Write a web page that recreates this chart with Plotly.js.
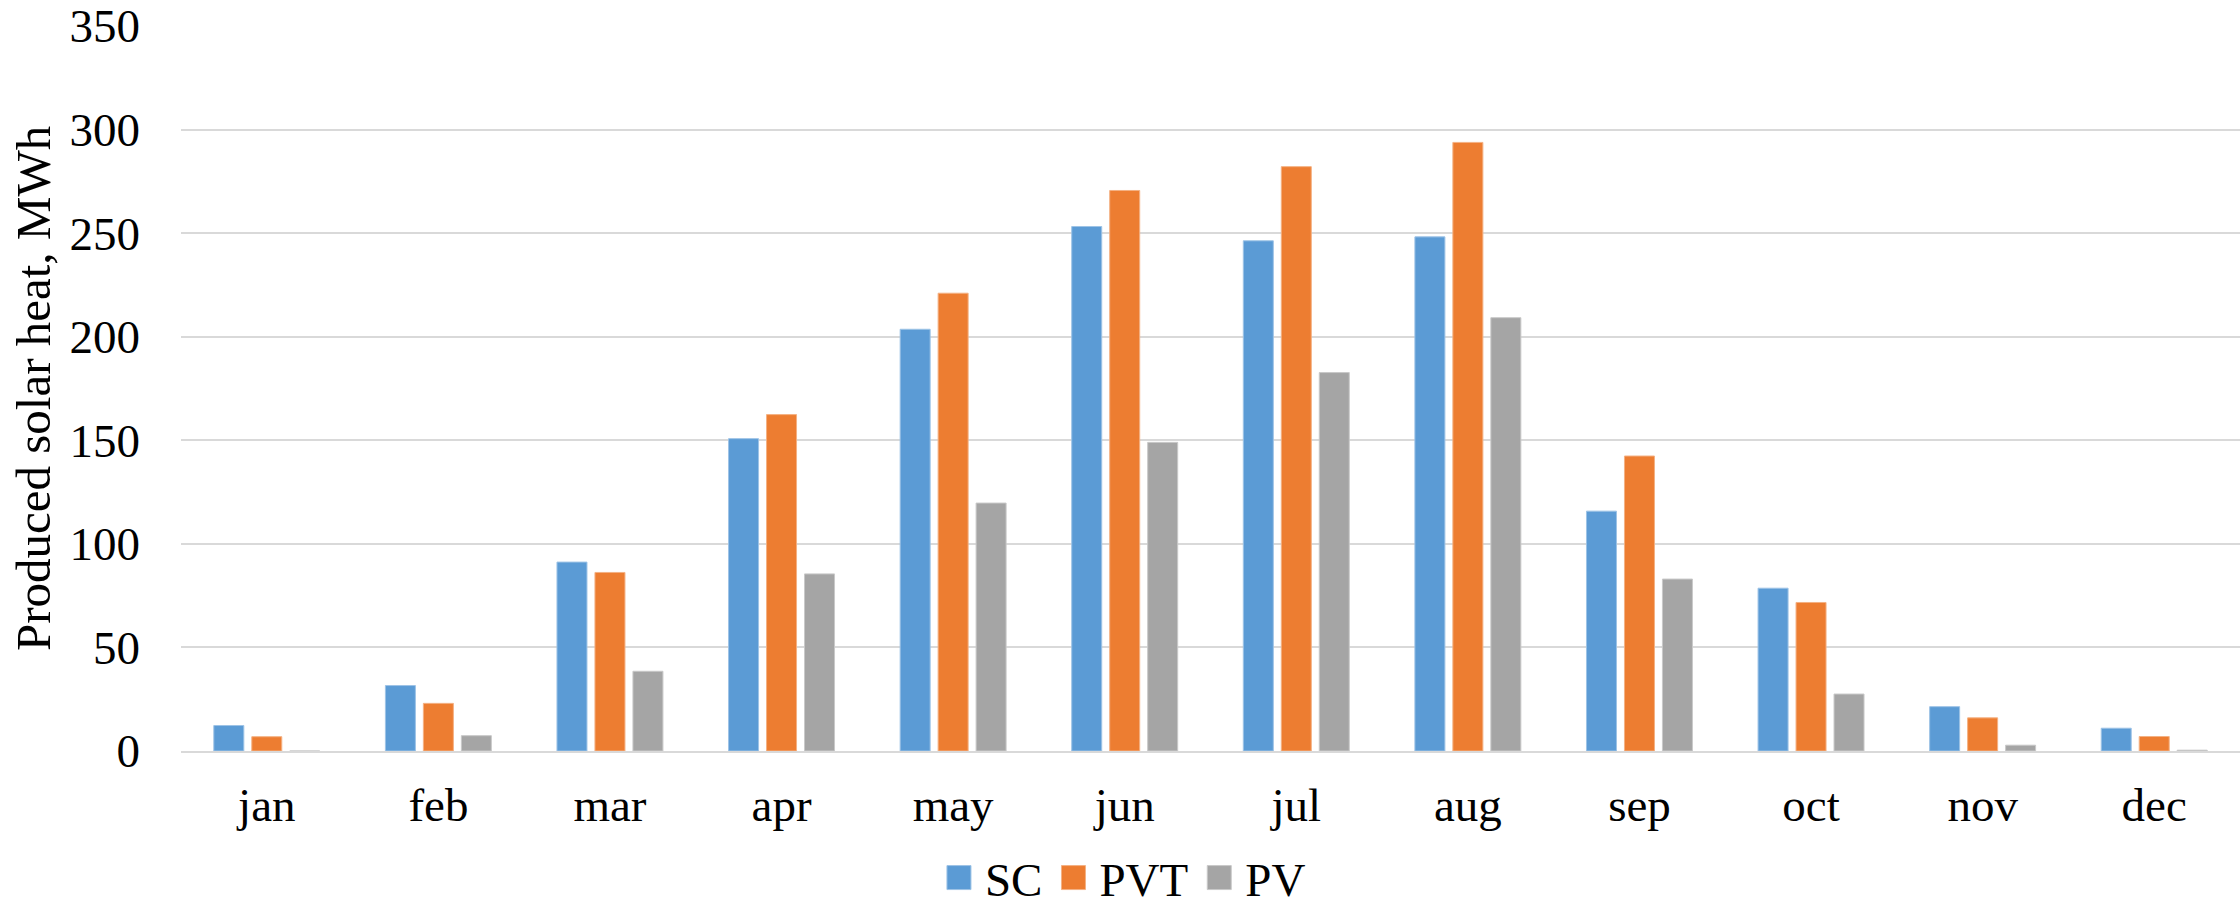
<!DOCTYPE html>
<html>
<head>
<meta charset="utf-8">
<script src="https://cdn.plot.ly/plotly-3.0.1.min.js"></script>
<style>
  html, body { margin: 0; padding: 0; background: #ffffff; }
  #chart { width: 2240px; height: 907px; }
</style>
</head>
<body>
<div id="chart"></div>
<script>
// ---- data ----
const months = ["jan", "feb", "mar", "apr", "may", "jun", "jul", "aug", "sep", "oct", "nov", "dec"];
const scValues  = [12.3, 31.6, 91.2, 150.8, 203.6, 253.2, 246.3, 248.2, 115.8, 78.6, 21.4, 11.0];
const pvtValues = [6.9, 23.0, 86.2, 162.4, 221.0, 270.6, 282.1, 293.8, 142.4, 71.7, 16.0, 7.0];
const pvValues  = [0, 7.4, 38.5, 85.5, 119.7, 149.0, 182.7, 209.2, 83.0, 27.5, 2.8, 0.4];
const seriesNames = ["SC", "PVT", "PV"];
const yTickValues = [0, 50, 100, 150, 200, 250, 300, 350];

const colors = ["#5B9BD5", "#ED7D31", "#A5A5A5"];
const edgeColors = ["#9DC3E6", "#F4B183", "#C9C9C9"];
const FONT = '"Liberation Serif", "Times New Roman", serif';

const seriesValues = [scValues, pvtValues, pvValues];
const traces = seriesValues.map((vals, i) => ({
  type: "bar",
  name: seriesNames[i],
  x: months,
  y: vals,
  marker: { color: colors[i], line: { color: edgeColors[i], width: 1 } },
  hoverinfo: "x+y+name"
}));

const layout = {
  width: 2240,
  height: 907,
  paper_bgcolor: "#ffffff",
  plot_bgcolor: "#ffffff",
  margin: { l: 181, r: 0, t: 26, b: 156, pad: 0, autoexpand: false },
  barmode: "group",
  bargap: 0.336,
  bargroupgap: 0.21,
  font: { family: FONT, size: 47, color: "#000000" },
  showlegend: true,
  legend: {
    orientation: "h",
    x: 0.457,
    xanchor: "center",
    y: -0.1752,
    yanchor: "middle",
    itemwidth: 42,
    font: { family: FONT, size: 47, color: "#000000" },
    bgcolor: "rgba(0,0,0,0)",
    itemclick: false,
    traceorder: "normal"
  },
  xaxis: {
    type: "category",
    categoryarray: months,
    tickfont: { family: FONT, size: 47, color: "#000000" },
    ticks: "",
    ticklabelstandoff: 12,
    showgrid: false,
    showline: true,
    linecolor: "#D9D9D9",
    linewidth: 2,
    zeroline: false,
    fixedrange: true,
    automargin: false
  },
  yaxis: {
    range: [0, 350],
    tickvals: yTickValues,
    ticktext: yTickValues.map(String),
    tickfont: { family: FONT, size: 47, color: "#000000" },
    ticks: "",
    ticklabelstandoff: 40,
    showgrid: true,
    gridcolor: "#D9D9D9",
    gridwidth: 1.5,
    zeroline: false,
    showline: false,
    fixedrange: true,
    title: {
      text: "Produced solar heat, MWh",
      font: { family: FONT, size: 49, color: "#000000" },
      standoff: 3
    },
    automargin: true
  }
};

Plotly.newPlot("chart", traces, layout, { displayModeBar: false }).then(gd => {
  // enlarge the legend swatches to match the reference (24px squares)
  gd.querySelectorAll(".legend .legendpoints path").forEach(p => {
    p.setAttribute("d", "M12,12H-12V-12H12Z");
  });
});
</script>
</body>
</html>
